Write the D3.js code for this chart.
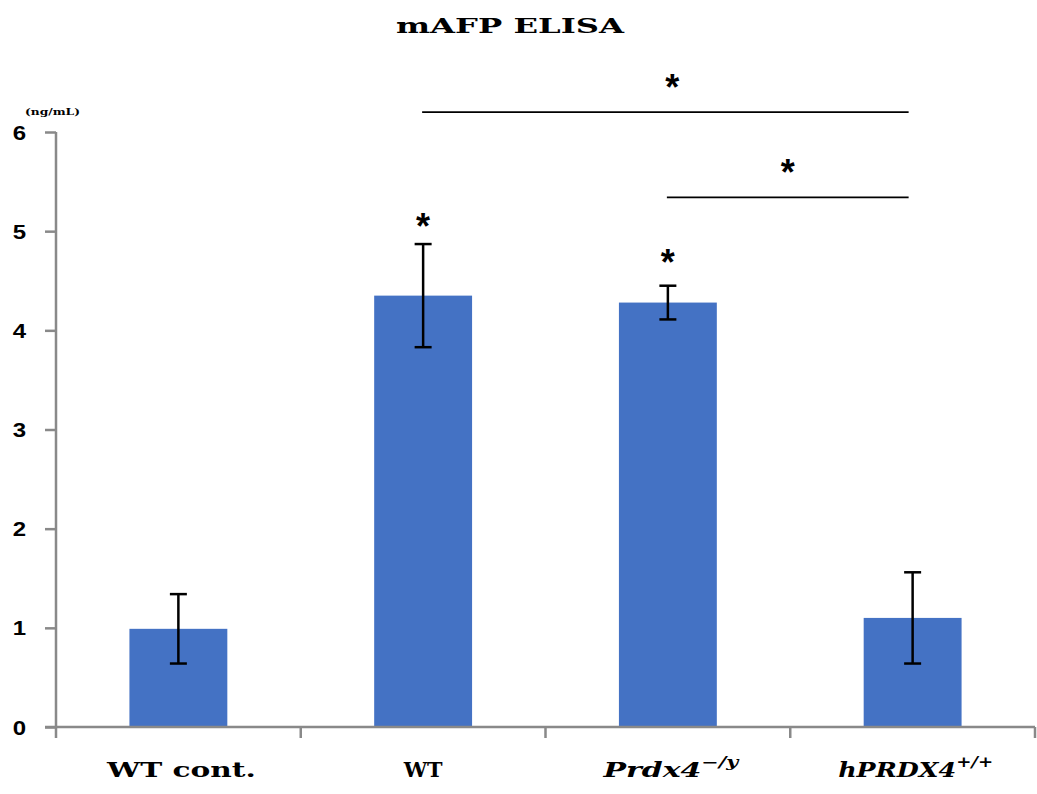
<!DOCTYPE html>
<html>
<head>
<meta charset="utf-8">
<script src="https://cdn.jsdelivr.net/npm/d3@7/dist/d3.min.js"></script>
<style>
  body { margin: 0; background: #fff; }
  svg { display: block; }
</style>
</head>
<body>
<svg id="chart" width="1037" height="794"></svg>
<script>
// ---- data ----
const categories = ["WT cont.", "WT", "Prdx4", "hPRDX4"];
const labelMain = ["WT cont.", "WT", "Prdx4", "hPRDX4"];
const labelSup = ["", "", "\u2212/y", "+/+"];
const labelItalic = [false, false, true, true];
const means = [0.99, 4.35, 4.28, 1.10];
const errors = [0.35, 0.52, 0.17, 0.46];
const starOver = [false, true, true, false];
const yTicks = [0, 1, 2, 3, 4, 5, 6];
const brackets = [
  { from: "WT", to: "hPRDX4", level: 6.2 },
  { from: "Prdx4", to: "hPRDX4", level: 5.34 }
];

const svg = d3.select("#chart");
const mLeft = 56, mRight = 1035, mTop = 132, mBottom = 727;
const slab = "'DejaVu Serif', 'Liberation Serif', serif";
const sans = "'Liberation Sans', Arial, sans-serif";
const axisColor = "#898989";

const x = d3.scaleBand().domain(categories).range([mLeft, mRight])
  .paddingInner(0.6).paddingOuter(0.3);
const step = x.step();
const y = d3.scaleLinear().domain([0, 6]).range([mBottom, mTop]);

// fitted widths for the typewriter-style labels (mono text drawn wide)
const mainWidths = [149, 39, 98, 118];
const supWidths = [0, 0, 37, 37];

// title
svg.append("text")
  .attr("x", 396).attr("y", 33)
  .attr("textLength", 228).attr("lengthAdjust", "spacingAndGlyphs")
  .style("font-family", slab).style("font-weight", "bold").style("font-size", "21px")
  .text("mAFP ELISA");

// unit
svg.append("text")
  .attr("x", 25).attr("y", 115)
  .attr("textLength", 55).attr("lengthAdjust", "spacingAndGlyphs")
  .style("font-family", slab).style("font-weight", "bold").style("font-size", "9.5px")
  .text("(ng/mL)");

// bars
svg.append("g").selectAll("rect").data(categories).join("rect")
  .attr("x", d => x(d))
  .attr("width", x.bandwidth())
  .attr("y", (d, i) => y(means[i]))
  .attr("height", (d, i) => y(0) - y(means[i]))
  .attr("fill", "#4472C4");

// y axis
const yAxis = svg.append("g")
  .attr("transform", `translate(${mLeft},0)`)
  .call(d3.axisLeft(y).tickValues(yTicks).tickSize(11).tickSizeOuter(0).tickFormat(d3.format("d")));
yAxis.select(".domain").attr("stroke", axisColor).attr("stroke-width", 2.5)
  .attr("d", `M0,${mTop}V${mBottom + 11}`);
yAxis.selectAll(".tick line").attr("stroke", axisColor).attr("stroke-width", 2.5);
yAxis.selectAll(".tick text")
  .attr("x", 0).attr("dy", null)
  .attr("transform", `translate(-30,7) scale(1.2,1)`)
  .attr("text-anchor", "end")
  .style("font-family", sans).style("font-weight", "bold").style("font-size", "20px")
  .attr("fill", "#000");

// x axis
const xAxis = svg.append("g");
xAxis.append("line").attr("x1", 45).attr("x2", mRight).attr("y1", y(0)).attr("y2", y(0))
  .attr("stroke", axisColor).attr("stroke-width", 2.5);
const boundaries = categories.map((c, i) => mLeft + i * step).concat([mRight]);
xAxis.selectAll("line.b").data(boundaries.slice(1)).join("line").attr("class", "b")
  .attr("x1", d => d).attr("x2", d => d)
  .attr("y1", y(0)).attr("y2", y(0) + 11)
  .attr("stroke", axisColor).attr("stroke-width", 2.5);

// x labels
categories.forEach((c, i) => {
  const cx = x(c) + x.bandwidth() / 2 + (i === 1 ? 0 : 3);
  const total = mainWidths[i] + supWidths[i];
  const t = svg.append("text")
    .attr("x", cx - total / 2).attr("y", 777)
    .style("font-family", slab).style("font-weight", "bold").style("font-size", "20px")
    .style("font-style", labelItalic[i] ? "italic" : "normal");
  t.append("tspan")
    .attr("textLength", mainWidths[i]).attr("lengthAdjust", "spacingAndGlyphs")
    .text(labelMain[i]);
  if (labelSup[i]) {
    t.append("tspan").attr("dy", -10).style("font-size", "14px")
      .attr("textLength", supWidths[i]).attr("lengthAdjust", "spacingAndGlyphs")
      .text(labelSup[i]);
  }
});

// error bars
const eb = svg.append("g").attr("stroke", "#000").attr("stroke-width", 2.5);
categories.forEach((c, i) => {
  const cx = x(c) + x.bandwidth() / 2;
  const y1 = y(means[i] + errors[i]), y2 = y(means[i] - errors[i]);
  eb.append("line").attr("x1", cx).attr("x2", cx).attr("y1", y1).attr("y2", y2);
  eb.append("line").attr("x1", cx - 8.5).attr("x2", cx + 8.5).attr("y1", y1).attr("y2", y1);
  eb.append("line").attr("x1", cx - 8.5).attr("x2", cx + 8.5).attr("y1", y2).attr("y2", y2);
});

// stars
function star(cx, cy) {
  svg.append("text")
    .attr("x", cx).attr("y", cy + 17)
    .attr("text-anchor", "middle")
    .style("font-family", sans).style("font-weight", "bold").style("font-size", "36px")
    .text("*");
}
categories.forEach((c, i) => {
  if (starOver[i]) {
    const cx = x(c) + x.bandwidth() / 2;
    star(cx, y(means[i] + errors[i]) - (i === 1 ? 22 : 28));
  }
});

// brackets
brackets.forEach((b, k) => {
  const x1 = x(b.from) + x.bandwidth() / 2 - 1;
  const x2 = x(b.to) + x.bandwidth() / 2 - 4;
  const yy = y(b.level);
  svg.append("line").attr("x1", x1).attr("x2", x2).attr("y1", yy).attr("y2", yy)
    .attr("stroke", "#000").attr("stroke-width", 1.8);
  star((x1 + x2) / 2 + (k === 0 ? 7 : 0), yy - 29);
});
</script>
</body>
</html>
